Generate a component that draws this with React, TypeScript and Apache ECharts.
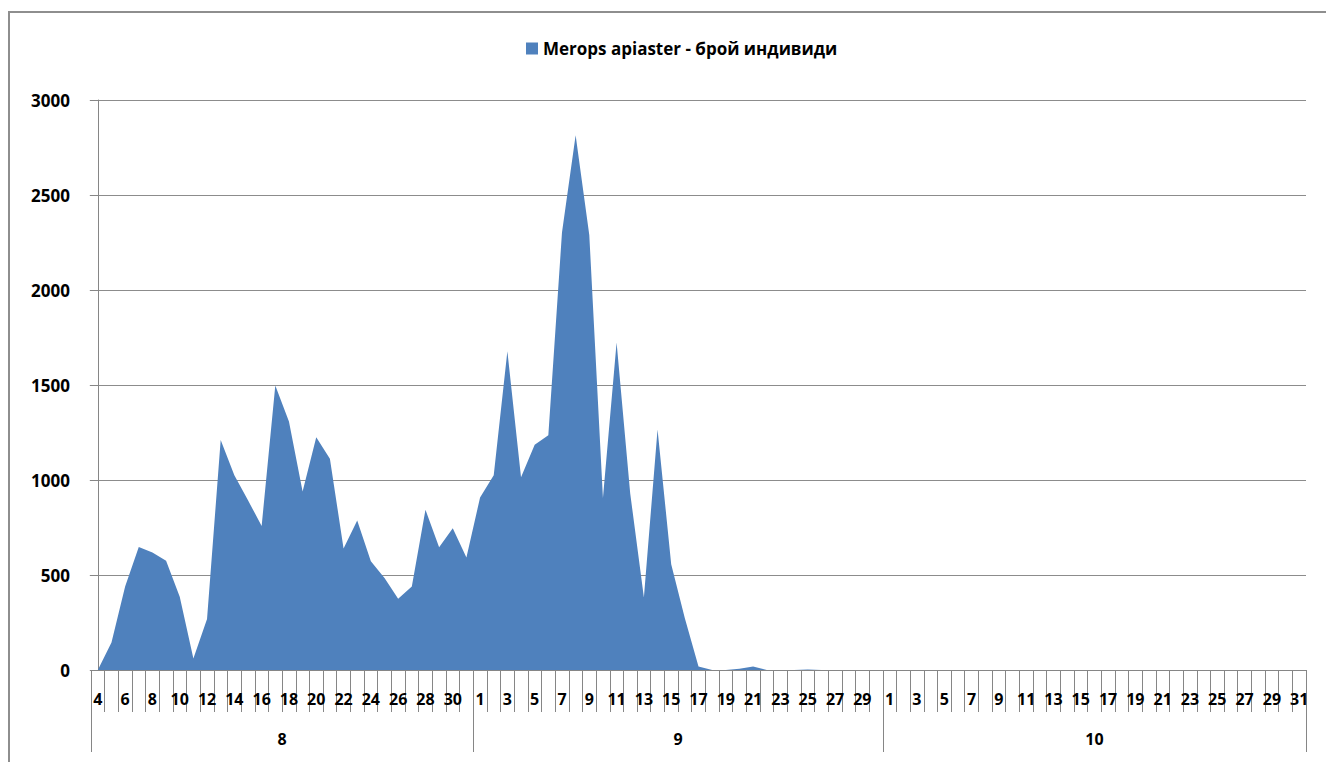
import React, { useEffect, useRef } from 'react';
import * as echarts from 'echarts';

// Category labels (day of month), grouped by month
const augDays = ['4','5','6','7','8','9','10','11','12','13','14','15','16','17','18','19','20','21','22','23','24','25','26','27','28','29','30','31'];
const sepDays = ['1','2','3','4','5','6','7','8','9','10','11','12','13','14','15','16','17','18','19','20','21','22','23','24','25','26','27','28','29','30'];
const octDays = ['1','2','3','4','5','6','7','8','9','10','11','12','13','14','15','16','17','18','19','20','21','22','23','24','25','26','27','28','29','30','31'];
const monthLabels = ['8', '9', '10'];

// Counts of individuals per day
const augValues = [0, 145, 440, 648, 618, 575, 385, 60, 268, 1210, 1025, 893, 758, 1497, 1308, 940, 1225, 1112, 640, 787, 572, 484, 375, 440, 843, 646, 746, 592];
const sepValues = [908, 1025, 1678, 1015, 1185, 1235, 2302, 2815, 2290, 905, 1724, 928, 382, 1266, 557, 272, 18, 0, 0, 6, 18, 0, 0, 0, 3, 0, 0, 0, 0, 0];
const octValues = [0, 0, 0, 0, 0, 0, 0, 0, 0, 0, 0, 0, 0, 0, 0, 0, 0, 0, 0, 0, 0, 0, 0, 0, 0, 0, 0, 0, 0, 0, 0];

const seriesName = 'Merops apiaster - брой индивиди';
const yTicks = { min: 0, max: 3000, interval: 500 };

export default function App() {
  const ref = useRef<HTMLDivElement>(null);

  useEffect(() => {
    const chart = echarts.init(ref.current!, null, { renderer: 'svg' });
    const monthGroups = [augDays, sepDays, octDays];
    const categories = ([] as string[]).concat(...monthGroups);
    const values = ([] as number[]).concat(augValues, sepValues, octValues);

    // month boundaries and centres, in category-index units
    const bounds: number[] = [-0.5];
    const centres: number[] = [];
    let start = 0;
    monthGroups.forEach((g) => {
      centres.push(start - 0.5 + g.length / 2);
      start += g.length;
      bounds.push(start - 0.5);
    });

    const font = 'Open Sans';
    const grey = '#868686';

    chart.setOption({
      animation: false,
      textStyle: { fontFamily: font },
      legend: {
        left: 521,
        top: 35,
        icon: 'rect',
        itemWidth: 12,
        itemHeight: 12,
        itemGap: 5,
        textStyle: { fontFamily: font, fontWeight: 'bold', fontSize: 17, color: '#000' },
        data: [seriesName],
      },
      grid: { left: 91, right: 20, top: 100, bottom: 92, containLabel: false },
      xAxis: [
        {
          type: 'category',
          data: categories,
          boundaryGap: true,
          axisLine: { lineStyle: { color: grey, width: 1 } },
          axisTick: { show: true, interval: 0, length: 42, lineStyle: { color: grey } },
          axisLabel: {
            interval: 1,
            margin: 21,
            fontFamily: font,
            fontWeight: 'bold',
            fontSize: 16,
            color: '#000',
          },
          splitLine: { show: false },
        },
        {
          type: 'value',
          position: 'bottom',
          min: bounds[0],
          max: bounds[bounds.length - 1],
          axisLine: { show: false },
          splitLine: { show: false },
          axisTick: { show: true, customValues: bounds, length: 82, lineStyle: { color: grey } },
          axisLabel: {
            show: true,
            customValues: centres,
            margin: 61,
            fontFamily: font,
            fontWeight: 'bold',
            fontSize: 16,
            color: '#000',
            formatter: (v: number) => {
              const i = centres.findIndex((c) => Math.abs(c - v) < 1e-6);
              return i >= 0 ? monthLabels[i] : '';
            },
          },
        },
      ],
      yAxis: {
        type: 'value',
        min: yTicks.min,
        max: yTicks.max,
        interval: yTicks.interval,
        axisLine: { show: true, lineStyle: { color: grey } },
        axisTick: { show: true, length: 8, lineStyle: { color: grey } },
        axisLabel: {
          margin: 21,
          fontFamily: font,
          fontWeight: 'bold',
          fontSize: 17,
          color: '#000',
          formatter: (v: number) => String(v),
        },
        splitLine: { show: true, lineStyle: { color: '#8c8c8c', width: 1 } },
      },
      series: [
        {
          name: seriesName,
          type: 'line',
          xAxisIndex: 0,
          data: values,
          symbol: 'none',
          lineStyle: { width: 0 },
          itemStyle: { color: '#4F81BD' },
          areaStyle: { color: '#4F81BD', opacity: 1 },
        },
      ],
    });
    return () => chart.dispose();
  }, []);

  return (
    <div style={{ position: 'fixed', left: 0, top: 0, width: 1326, height: 762, overflow: 'hidden', background: '#fff' }}>
      <div
        style={{
          position: 'absolute',
          left: 8,
          top: 11,
          width: 1400,
          height: 1000,
          border: '2px solid #8e8e8e',
          boxSizing: 'border-box',
        }}
      />
      <div ref={ref} style={{ position: 'absolute', left: 0, top: 0, width: 1326, height: 762 }} />
    </div>
  );
}
